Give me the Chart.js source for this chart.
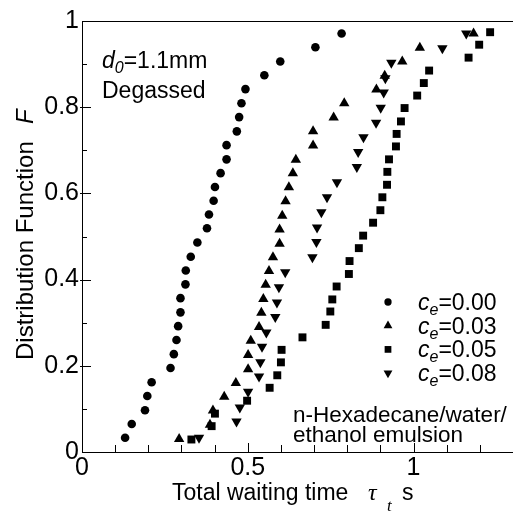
<!DOCTYPE html>
<html>
<head>
<meta charset="utf-8">
<script src="https://cdn.jsdelivr.net/npm/chart.js@4"></script>
<style>
  html, body { margin: 0; padding: 0; background: #fff; }
  #wrap { width: 513px; height: 514px; }
</style>
</head>
<body>
<div id="wrap"><canvas id="chart"></canvas></div>
<script>
// tick labels
const xTicks = [0, 0.5, 1];
const yTicks = [0, 0.2, 0.4, 0.6, 0.8, 1];
const ceLabels = ["0.00", "0.03", "0.05", "0.08"];

// c_e = 0.00 (circles)
const tau000 = [0.130, 0.150, 0.190, 0.197, 0.210, 0.267, 0.277, 0.285, 0.290, 0.297,
                0.297, 0.312, 0.313, 0.328, 0.348, 0.377, 0.383, 0.397, 0.401, 0.418,
                0.436, 0.436, 0.467, 0.474, 0.481, 0.493, 0.550, 0.598, 0.704, 0.783];
const F000 = [0.033, 0.065, 0.097, 0.130, 0.162, 0.195, 0.227, 0.260, 0.292, 0.324,
              0.357, 0.389, 0.421, 0.453, 0.486, 0.519, 0.551, 0.583, 0.615, 0.647,
              0.679, 0.712, 0.744, 0.777, 0.809, 0.842, 0.874, 0.906, 0.939, 0.971];

// c_e = 0.03 (up triangles)
const tau003 = [0.293, 0.386, 0.395, 0.429, 0.464, 0.501, 0.501, 0.509, 0.534, 0.541,
                0.547, 0.554, 0.564, 0.576, 0.596, 0.596, 0.604, 0.614, 0.624, 0.636,
                0.645, 0.697, 0.697, 0.759, 0.791, 0.888, 0.913, 0.966, 1.019, 1.181];
const F003 = [0.030, 0.063, 0.096, 0.128, 0.160, 0.192, 0.225, 0.258, 0.290, 0.323,
              0.355, 0.388, 0.420, 0.452, 0.483, 0.516, 0.548, 0.582, 0.614, 0.647,
              0.678, 0.711, 0.744, 0.776, 0.809, 0.841, 0.873, 0.906, 0.938, 0.971];

// c_e = 0.05 (squares)
const tau005 = [0.330, 0.391, 0.401, 0.498, 0.566, 0.589, 0.600, 0.602, 0.665, 0.735,
                0.749, 0.755, 0.768, 0.805, 0.807, 0.835, 0.848, 0.878, 0.900, 0.906,
                0.920, 0.921, 0.926, 0.947, 0.949, 0.962, 0.973, 1.011, 1.031, 1.047,
                1.166, 1.198, 1.231];
const F005 = [0.029, 0.060, 0.089, 0.119, 0.149, 0.178, 0.208, 0.237, 0.266, 0.295,
              0.326, 0.354, 0.384, 0.413, 0.443, 0.473, 0.502, 0.532, 0.561, 0.591,
              0.620, 0.650, 0.679, 0.709, 0.738, 0.767, 0.798, 0.827, 0.856, 0.885,
              0.915, 0.945, 0.974];

// c_e = 0.08 (down triangles)
const tau008 = [0.353, 0.466, 0.476, 0.501, 0.534, 0.538, 0.543, 0.556, 0.583, 0.588,
                0.594, 0.613, 0.695, 0.707, 0.709, 0.722, 0.739, 0.769, 0.829, 0.833,
                0.849, 0.887, 0.901, 0.910, 0.915, 0.933, 1.087, 1.159];
const F008 = [0.033, 0.071, 0.103, 0.140, 0.175, 0.208, 0.244, 0.277, 0.313, 0.347,
              0.382, 0.417, 0.452, 0.487, 0.521, 0.556, 0.591, 0.626, 0.661, 0.696,
              0.730, 0.764, 0.799, 0.834, 0.867, 0.903, 0.937, 0.971];

const SANS = "'Liberation Sans', Arial, sans-serif";
const SERIF = "'Liberation Serif', 'Times New Roman', serif";

function pts(xs, ys) {
  return xs.map(function (x, i) { return { x: x, y: ys[i] }; });
}

const markers = [
  { pointStyle: "circle", radius: 4.3, rotation: 0 },
  { pointStyle: "triangle", radius: 6, rotation: 0 },
  { pointStyle: "rect", radius: 5.6, rotation: 0 },
  { pointStyle: "triangle", radius: 6, rotation: 180 },
];
const seriesData = [pts(tau000, F000), pts(tau003, F003), pts(tau005, F005), pts(tau008, F008)];

const datasets = seriesData.map(function (d, i) {
  return {
    label: "ce=" + ceLabels[i],
    data: d,
    showLine: false,
    pointStyle: markers[i].pointStyle,
    pointRadius: markers[i].radius,
    pointRotation: markers[i].rotation,
    pointBackgroundColor: "#000",
    pointBorderWidth: 0,
  };
});

// draws a run of text pieces [text, font, dy] starting at x
function drawRun(ctx, parts, x, y) {
  parts.forEach(function (p) {
    ctx.font = p[1];
    ctx.fillText(p[0], x, y + (p[2] || 0));
    x += ctx.measureText(p[0]).width;
  });
}

const decorPlugin = {
  id: "decor",
  afterDraw: function (chart) {
    const ctx = chart.ctx;
    const xs = chart.scales.x, ys = chart.scales.y;
    const a = chart.chartArea;
    ctx.save();
    ctx.strokeStyle = "#000";
    ctx.fillStyle = "#000";
    ctx.lineWidth = 1;

    // top frame line
    ctx.beginPath();
    ctx.moveTo(a.left, a.top + 0.5);
    ctx.lineTo(a.right, a.top + 0.5);
    ctx.stroke();

    // inward ticks
    ctx.beginPath();
    for (let i = 1; i <= 13; i++) {
      const px = Math.round(xs.getPixelForValue(i / 10)) + 0.5;
      const len = (i % 5 === 0) ? 9 : 7;
      ctx.moveTo(px, a.bottom);
      ctx.lineTo(px, a.bottom - len);
    }
    for (let i = 1; i <= 9; i++) {
      const py = Math.round(ys.getPixelForValue(i / 10)) + 0.5;
      const major = i % 2 === 0;
      ctx.moveTo(a.left - (major ? 2 : 0), py);
      ctx.lineTo(a.left + (major ? 9 : 5), py);
    }
    ctx.stroke();

    ctx.textBaseline = "alphabetic";
    ctx.textAlign = "left";

    // annotations
    drawRun(ctx, [["d", "italic 23px " + SANS], ["0", "italic 16px " + SANS, 5], ["=1.1mm", "23px " + SANS]], 102, 68);
    drawRun(ctx, [["Degassed", "23px " + SANS]], 102, 98);
    drawRun(ctx, [["n-Hexadecane/water/", "22.5px " + SANS]], 293, 422);
    drawRun(ctx, [["ethanol emulsion", "22.5px " + SANS]], 293, 442);

    // legend
    ceLabels.forEach(function (lab, i) {
      const cy = 302 + i * 23.7;
      Chart.helpers.drawPoint(ctx, {
        pointStyle: markers[i].pointStyle,
        radius: markers[i].radius * 0.85,
        rotation: markers[i].rotation,
        borderWidth: 0,
      }, 388, cy);
      ctx.fillStyle = "#000";
      drawRun(ctx, [["c", "italic 23px " + SANS], ["e", "italic 16px " + SANS, 5], ["=" + lab, "23px " + SANS]], 418, cy + 8);
    });

    // x axis title
    drawRun(ctx, [["Total waiting time", "23px " + SANS]], 172, 500);
    drawRun(ctx, [["\u03C4", "italic 24px " + SERIF]], 368, 500);
    drawRun(ctx, [["t", "italic 17px " + SERIF]], 387, 511);
    drawRun(ctx, [["s", "23px " + SANS]], 402, 500);

    // y axis title
    ctx.translate(33, 360);
    ctx.rotate(-Math.PI / 2);
    drawRun(ctx, [["Distribution Function", "24px " + SANS]], 0, 0);
    drawRun(ctx, [["F", "italic 24px " + SANS]], 236, 0);
    ctx.restore();
  },
};

const ctx = document.getElementById("chart").getContext("2d");
new Chart(ctx, {
  type: "scatter",
  data: { datasets: datasets },
  options: {
    responsive: true,
    maintainAspectRatio: false,
    animation: false,
    events: [],
    layout: { autoPadding: false, padding: { top: 21, right: 0, left: 0, bottom: 0 } },
    plugins: { legend: { display: false }, tooltip: { enabled: false } },
    scales: {
      x: {
        type: "linear",
        min: 0,
        max: 1.3,
        grid: { display: false, drawTicks: false },
        border: { display: true, color: "#000", width: 1 },
        afterBuildTicks: function (s) { s.ticks = xTicks.map(function (v) { return { value: v }; }); },
        afterFit: function (s) { s.height = 62; s.paddingLeft = 0; s.paddingRight = 0; },
        ticks: {
          autoSkip: false,
          maxRotation: 0,
          padding: 1,
          color: "#000",
          font: { family: SANS, size: 25 },
          callback: function (v) { return String(v); },
        },
      },
      y: {
        type: "linear",
        min: 0,
        max: 1,
        grid: { display: false, drawTicks: false },
        border: { display: true, color: "#000", width: 1 },
        afterBuildTicks: function (s) { s.ticks = yTicks.map(function (v) { return { value: v }; }); },
        afterFit: function (s) { s.width = 82; s.paddingTop = 0; s.paddingBottom = 0; },
        ticks: {
          autoSkip: false,
          padding: 3,
          color: "#000",
          font: { family: SANS, size: 25 },
          callback: function (v) { return String(v); },
        },
      },
    },
  },
  plugins: [decorPlugin],
});
</script>
</body>
</html>
